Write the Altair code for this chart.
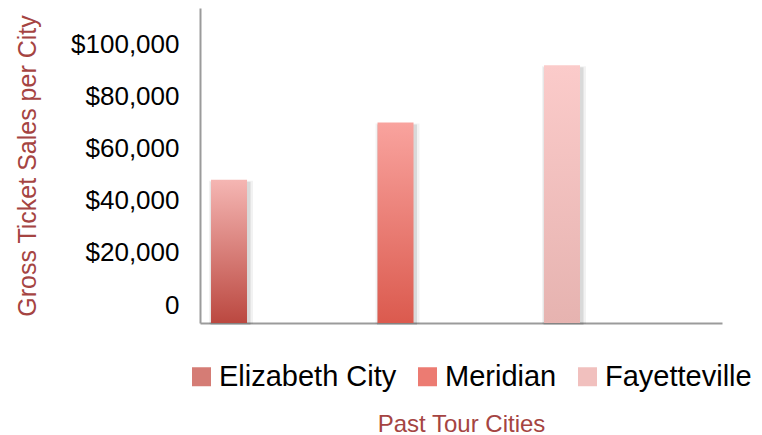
import altair as alt
import pandas as pd

cities = ["Elizabeth City", "Meridian", "Fayetteville"]
sales = [55000, 77000, 99000]
legend_colors = ["#D57C75", "#EC7B72", "#F1C0BE"]
grad_bottom = ["#BB4840", "#DB5A4E", "#E6B3B0"]
grad_top = ["#F5B6B3", "#F9A39E", "#FBCBCA"]
tick_values = [0, 20000, 40000, 60000, 80000, 100000]

df = pd.DataFrame({"city": cities, "sales": sales})

FONT = "Liberation Sans"
RED = "#A54442"


def grad(bottom, top):
    return alt.Gradient(
        gradient="linear",
        x1=0, x2=0, y1=1, y2=0,
        stops=[alt.GradientStop(offset=0, color=bottom),
               alt.GradientStop(offset=1, color=top)],
    )


conds = [
    {"test": f"datum.city === '{c}'", "value": grad(b, t).to_dict()}
    for c, b, t in zip(cities, grad_bottom, grad_top)
]

x_enc = alt.X(
    "city:N",
    sort=cities,
    scale=alt.Scale(paddingInner=0.7838, paddingOuter=0.4594, align=0.072),
    axis=alt.Axis(
        labels=False, ticks=False, domainColor="#9B9B9B", domainWidth=2,
        title="Past Tour Cities", titleFont=FONT, titleFontSize=24,
        titleFontWeight="normal", titleColor=RED, titlePadding=89,
    ),
)
y_enc = alt.Y(
    "sales:Q",
    scale=alt.Scale(domain=[0, 121000], nice=False),
    axis=alt.Axis(
        values=tick_values, ticks=False, grid=False,
        domainColor="#9B9B9B", domainWidth=2,
        labelExpr="datum.value == 0 ? '0' : '$' + format(datum.value, ',')",
        labelFont=FONT, labelFontSize=26, labelColor="#000000",
        labelPadding=21, labelOffset=-18,
        title="Gross Ticket Sales per City", titleFont=FONT, titleFontSize=25,
        titleFontWeight="normal", titleColor=RED, titlePadding=30,
    ),
)

shadow_outer = alt.Chart(df).mark_bar(
    width=44, color="#000000", opacity=0.05, xOffset=2, yOffset=1
).encode(x=x_enc, y=y_enc)

shadow = alt.Chart(df).mark_bar(
    width=40, color="#000000", opacity=0.10, xOffset=1.5, yOffset=2
).encode(x=x_enc, y=y_enc)

bars = alt.Chart(df).mark_bar(width=36).encode(
    x=x_enc,
    y=y_enc,
    color=alt.Color(
        "city:N",
        scale=alt.Scale(domain=cities, range=legend_colors),
        legend=alt.Legend(
            title=None, orient="none", legendX=-13, legendY=354,
            direction="horizontal", symbolType="square", symbolSize=361,
            symbolStrokeWidth=0, labelFont=FONT, labelFontSize=29,
            labelColor="#000000", columnPadding=16, labelOffset=3,
            labelLimit=400, padding=0,
        ),
        condition=conds,
    ),
)

chart = alt.layer(shadow_outer, shadow, bars).properties(
    width=522,
    height=315,
    autosize=alt.AutoSizeParams(type="none"),
    padding={"left": 192, "top": 0, "right": 32, "bottom": 112},
).configure_view(stroke=None)

chart.save("out.html", embed_options={"renderer": "svg", "actions": False})
